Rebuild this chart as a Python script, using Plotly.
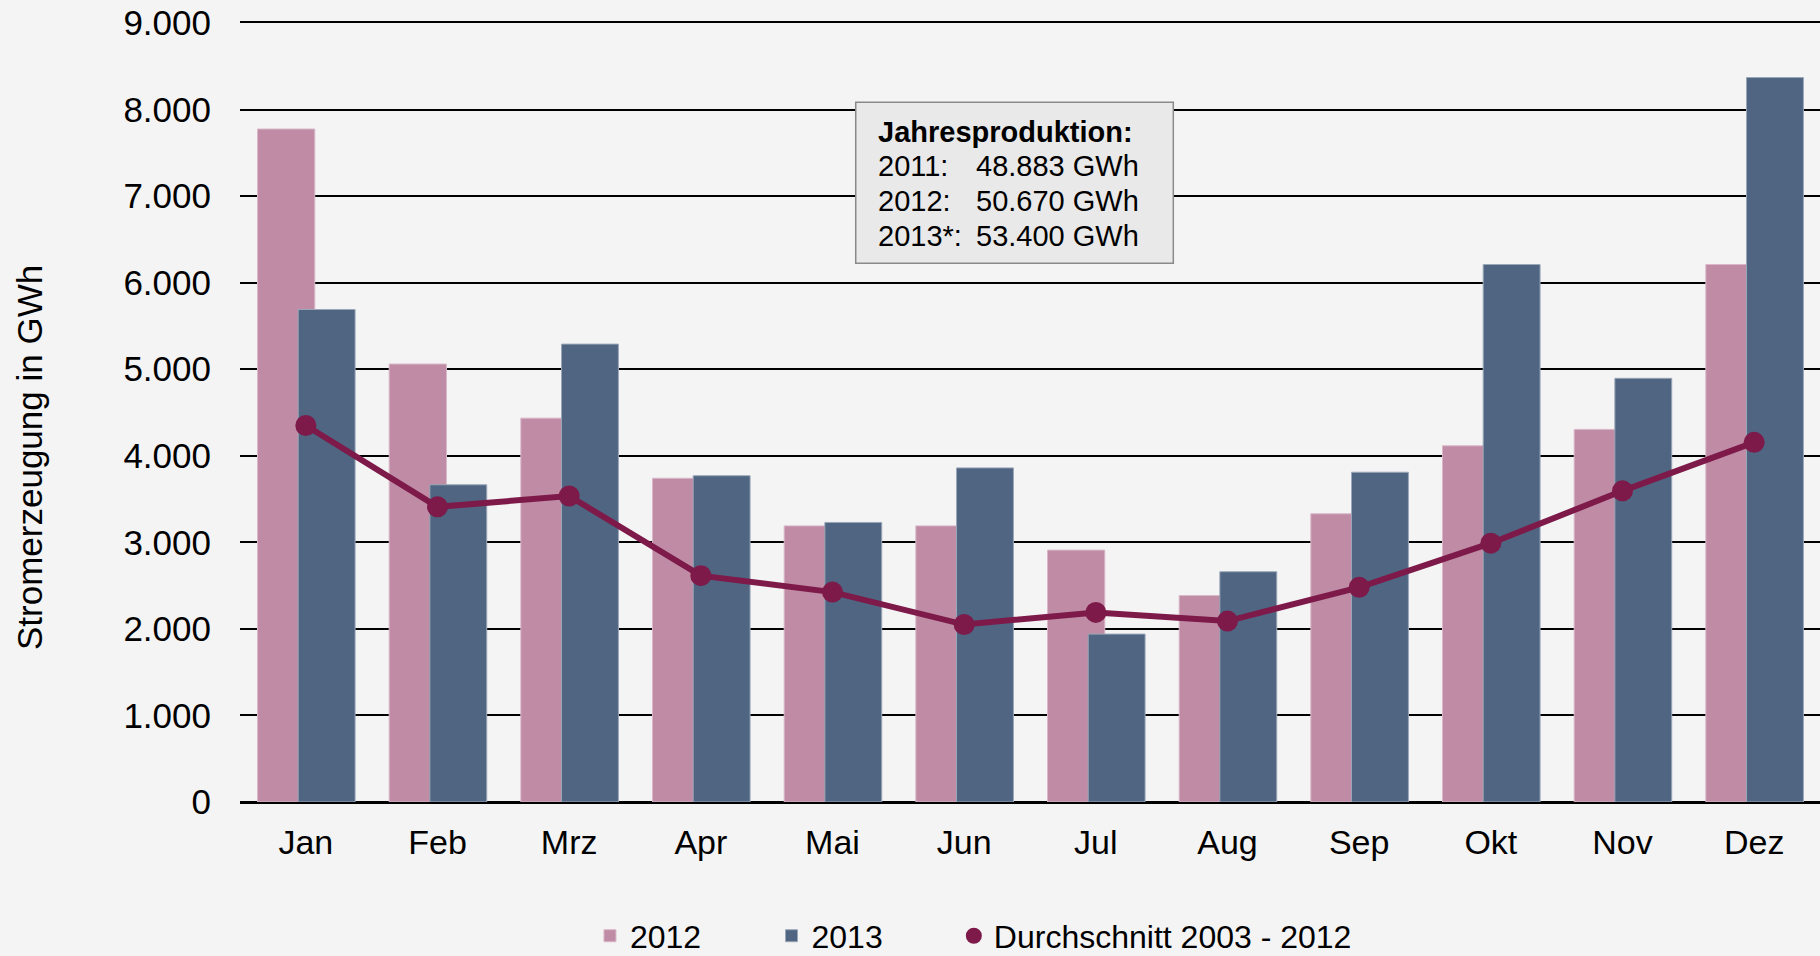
import plotly.graph_objects as go

# Monatswerte Stromerzeugung in GWh
monate = ['Jan', 'Feb', 'Mrz', 'Apr', 'Mai', 'Jun', 'Jul', 'Aug', 'Sep', 'Okt', 'Nov', 'Dez']
werte_2012 = [7775, 5060, 4435, 3740, 3190, 3190, 2910, 2385, 3330, 4115, 4305, 6210]
werte_2013 = [5690, 3665, 5290, 3770, 3230, 3860, 1940, 2660, 3810, 6210, 4895, 8370]
durchschnitt = [4350, 3410, 3535, 2615, 2425, 2050, 2190, 2090, 2480, 2990, 3595, 4155]

# Jahresproduktion (Infobox)
jahre = ['2011:', '2012:', '2013*:']
jahresproduktion = ['48.883 GWh', '50.670 GWh', '53.400 GWh']

PINK = '#BF8BA5'
BLAU = '#4F6581'
WEIN = '#7D1A4A'
BG = '#F4F4F4'
FONT = 'Arial, Liberation Sans, sans-serif'

fig = go.Figure()
fig.add_trace(go.Bar(
    x=monate, y=werte_2012, name='2012', legend='legend',
    marker=dict(color=PINK, line=dict(color='#D9B7C8', width=1)),
    offset=-0.367, width=0.435
))
fig.add_trace(go.Bar(
    x=monate, y=werte_2013, name='2013', legend='legend2',
    marker=dict(color=BLAU, line=dict(color='#9AA7B8', width=1)),
    offset=-0.058, width=0.432
))
fig.add_trace(go.Scatter(
    x=monate, y=durchschnitt, mode='lines',
    line=dict(color=WEIN, width=6), showlegend=False, hoverinfo='skip'
))
fig.add_trace(go.Scatter(
    x=monate, y=durchschnitt, mode='markers', name='Durchschnitt 2003 - 2012', legend='legend3',
    marker=dict(color=WEIN, size=21)
))

# Infobox
fig.add_shape(type='rect', xref='paper', yref='paper',
              x0=0.3897, x1=0.5907, y0=0.6915, y1=0.8982,
              fillcolor='#E9E9E9', line=dict(color='#8A8A8A', width=1.5), layer='above')
zeilen_y = 0.8605
schritt = 0.04454
fig.add_annotation(text='<b>Jahresproduktion:</b>', xref='paper', yref='paper',
                   x=0.4023, y=zeilen_y, xanchor='left', yanchor='middle', showarrow=False,
                   font=dict(size=29, color='black', family=FONT))
for i, (jahr, wert) in enumerate(zip(jahre, jahresproduktion)):
    yy = zeilen_y - (i + 1) * schritt
    fig.add_annotation(text=jahr, xref='paper', yref='paper', x=0.4023, y=yy,
                       xanchor='left', yanchor='middle', showarrow=False,
                       font=dict(size=29, color='black', family=FONT))
    fig.add_annotation(text=wert, xref='paper', yref='paper', x=0.4647, y=yy,
                       xanchor='left', yanchor='middle', showarrow=False,
                       font=dict(size=29, color='black', family=FONT))

# Achsentitel
fig.add_annotation(text='Stromerzeugung in GWh', xref='paper', yref='paper',
                   x=-0.1329, y=0.4416, textangle=-90, showarrow=False,
                   xanchor='center', yanchor='middle',
                   font=dict(size=35, color='black', family=FONT))

leg = dict(orientation='h', yref='container', y=0.021, xanchor='left', yanchor='middle',
           font=dict(size=32, color='black', family=FONT), bgcolor='rgba(0,0,0,0)', itemwidth=30)

fig.update_layout(
    width=1820, height=956,
    barmode='overlay',
    paper_bgcolor=BG, plot_bgcolor=BG,
    separators=',.',
    font=dict(family=FONT, color='black', size=32),
    margin=dict(l=240, r=0, t=23, b=154, autoexpand=False),
    legend=dict(leg, x=0.2215),
    legend2=dict(leg, x=0.3364),
    legend3=dict(leg, x=0.4518),
    showlegend=True
)
fig.update_xaxes(
    range=[-0.5, 11.5], showgrid=False, showline=True, mirror=True,
    linecolor='black', linewidth=2,
    tickfont=dict(size=34), ticklabelstandoff=9, ticks=''
)
fig.update_yaxes(
    range=[0, 9000], dtick=1000, tickformat=',.0f',
    showgrid=True, gridcolor='black', gridwidth=2,
    zeroline=True, zerolinecolor='black', zerolinewidth=2,
    tickfont=dict(size=35), ticklabelstandoff=28, ticks=''
)

fig.write_html('out.html', config={'displayModeBar': False},
               post_script="document.body.style.margin='0';document.body.style.background='#F4F4F4';")
